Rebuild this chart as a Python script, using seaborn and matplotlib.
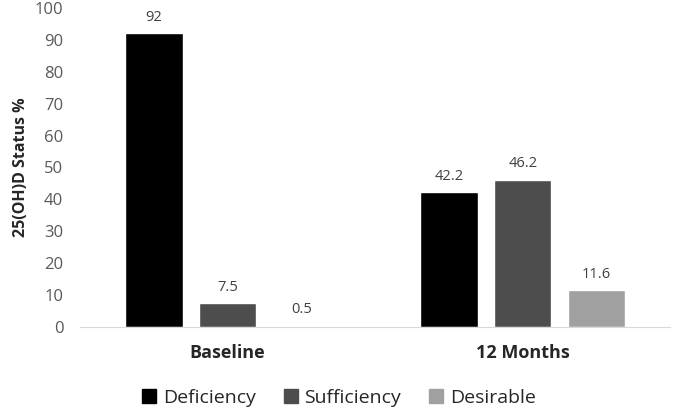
"""25(OH)D status grouped bar chart."""

import matplotlib

matplotlib.use("Agg")
import matplotlib.pyplot as plt
import pandas as pd
import seaborn as sns

timepoints = ["Baseline", "12 Months"]
statuses = ["Deficiency", "Sufficiency", "Desirable"]
baseline_vals = [92, 7.5, 0.5]
month12_vals = [42.2, 46.2, 11.6]
colors = ["#000000", "#4d4d4d", "#a0a0a0"]

df = pd.DataFrame({
    "time": [timepoints[0]] * 3 + [timepoints[1]] * 3,
    "status": statuses * 2,
    "value": baseline_vals + month12_vals,
})

sns.set_style("white")
plt.rcParams["font.family"] = ["Open Sans", "DejaVu Sans"]

fig = plt.figure(figsize=(6.75, 4.12), dpi=100)
ax = fig.add_axes([0.1185, 0.206, 0.8745, 0.775])

sns.barplot(data=df, x="time", y="value", hue="status", order=timepoints,
            hue_order=statuses, palette=colors, width=0.75, gap=0.22,
            ax=ax, legend=False)

for cont in ax.containers:
    ax.bar_label(cont, labels=[f"{v:g}" for v in cont.datavalues],
                 padding=6, fontsize=10.5, color="#404040")

ax.set_ylim(0, 100)
ax.set_xlim(-0.5, 1.5)
ax.set_yticks(range(0, 101, 10))
ax.tick_params(axis="y", labelsize=12, labelcolor="#595959", length=0, pad=12)
ax.tick_params(axis="x", labelsize=13, length=0, pad=12)
for lab in ax.get_xticklabels():
    lab.set_fontweight("bold")
ax.set_xlabel("")
ax.set_ylabel("25(OH)D Status %", fontsize=11.5, fontweight="bold", labelpad=4)
for s in ["top", "right", "left"]:
    ax.spines[s].set_visible(False)
ax.spines["bottom"].set_color("#d9d9d9")

handles = [plt.Line2D([], [], marker="s", linestyle="", markersize=10,
                      color=c) for c in colors]
fig.legend(handles, statuses, loc="center", bbox_to_anchor=(0.5, 0.035),
           ncol=3, frameon=False, fontsize=14, handletextpad=0.2,
           columnspacing=1.3, handlelength=1.0)

fig.savefig("out.png", dpi=100)
